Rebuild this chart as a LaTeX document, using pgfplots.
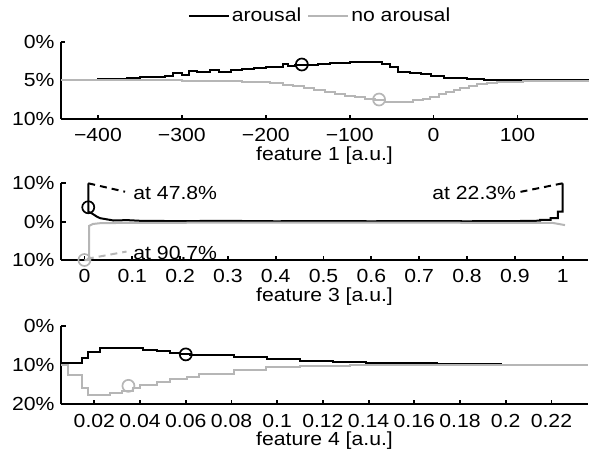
\documentclass[border=0pt]{standalone}
\usepackage{pgfplots}
\pgfplotsset{compat=1.18}
\usepackage{fontspec}
\setmainfont[FakeStretch=1.12]{Liberation Sans}
\definecolor{lg}{RGB}{182,182,182}
\newcommand{\ff}{\fontsize{19}{23}\selectfont}
\pgfplotsset{
  base/.style={
    scale only axis, width=527bp, anchor=south west,
    axis x line*=bottom, axis y line*=left,
    axis line style={line width=1.9bp},
    tick align=inside, major tick length=4.5bp,
    every tick/.style={line width=1.8bp, black},
    tick label style={font=\ff},
    label style={font=\ff},
    xticklabel style={yshift=-3bp},
    clip=false,
    x label style={at={(axis description cs:0.5,0)}, anchor=base, yshift=-41bp},
  },
  bl/.style={black, line width=2bp},
  gr/.style={lg, line width=2bp},
  circ/.style={only marks, mark=o, mark size=6bp, mark options={line width=1.7bp}},
}
\begin{document}
\ff
\begin{tikzpicture}[font=\ff]
\path[use as bounding box] (0,0) rectangle (590bp,-456bp);
% ---------- panel 1
\begin{axis}[base, at={(61bp,-119bp)}, height=77.3bp,
  xmin=-444, xmax=184, ymin=-5, ymax=5,
  xtick={-400,-300,-200,-100,0,100},
  xticklabels={−400,−300,−200,−100,0,100},
  ytick={-5,0,5}, yticklabels={10\%,5\%,0\%},
  xlabel={feature 1 [a.u.]},
  legend style={at={(axis description cs:0.4915,1)}, anchor=center, yshift=25.7bp,
    draw=none, fill=none, legend columns=2, font=\ff,
    /tikz/every even column/.append style={column sep=4bp}},
  legend image code/.code={\draw[#1] (0bp,0bp) -- (40bp,0bp);},
]
\addplot[bl, const plot] coordinates {(-444,0.05) (-420,0.08) (-400,0.12) (-380,0.2) (-365,0.3) (-350,0.38) (-335,0.45) (-320,0.6) (-310,0.95) (-300,0.7) (-292,1.2) (-282,1.05) (-266,1.3) (-256,1.05) (-242,1.35) (-228,1.5) (-214,1.6) (-200,1.7) (-188,1.75) (-180,2.1) (-174,1.85) (-165,1.95) (-150,2.0) (-138,2.15) (-124,2.2) (-112,2.25) (-100,2.35) (-86,2.4) (-72,2.35) (-62,2.15) (-52,1.7) (-42,1.1) (-28,1.0) (-15,0.8) (-3,0.5) (12,0.35) (25,0.25) (40,0.12) (60,0.1) (80,0.05) (100,0.02) (184,0)};
\addlegendentry{arousal}
\addplot[gr, const plot] coordinates {(-444,0) (-350,0) (-300,-0.02) (-250,-0.08) (-228,-0.15) (-210,-0.25) (-195,-0.4) (-180,-0.6) (-168,-0.75) (-155,-0.95) (-142,-1.2) (-130,-1.45) (-118,-1.75) (-106,-2.0) (-94,-2.2) (-82,-2.4) (-70,-2.55) (-58,-2.8) (-40,-2.75) (-25,-2.6) (-13,-2.4) (-4,-2.1) (6,-1.8) (15,-1.5) (24,-1.2) (32,-0.95) (42,-0.75) (52,-0.52) (64,-0.35) (76,-0.22) (90,-0.15) (107,-0.09) (140,-0.02) (184,0)};
\addlegendentry{no arousal}
\addplot[circ, black] coordinates {(-157,2.05)};
\addplot[circ, lg] coordinates {(-65,-2.48)};
\end{axis}
% ---------- panel 2
\begin{axis}[base, at={(61bp,-260bp)}, height=76.7bp,
  xmin=-0.049, xmax=1.053, ymin=-10, ymax=10,
  xtick={0,0.1,0.2,0.3,0.4,0.5,0.6,0.7,0.8,0.9,1},
  xticklabels={0,0.1,0.2,0.3,0.4,0.5,0.6,0.7,0.8,0.9,1},
  ytick={-10,0,10}, yticklabels={10\%,0\%,10\%},
  xlabel={feature 3 [a.u.]},
]
\addplot[bl] coordinates {(0.008,10) (0.008,2.6) (0.015,2.2) (0.026,1.3) (0.033,0.9) (0.047,0.6) (0.061,0.3) (0.089,0.4) (0.12,0.2) (0.2,0.15) (0.3,0.2) (0.4,0.1) (0.5,0.15) (0.6,0.1) (0.7,0.15) (0.8,0.1) (0.9,0.15) (0.953,0.25) (0.953,0.45) (0.975,0.45) (0.975,0.9) (0.99,0.9) (0.99,2.6) (1.0,2.6) (1.0,10)};
\addplot[gr] coordinates {(0.0,-10) (0.010,-10) (0.010,-1.1) (0.018,-0.6) (0.033,-0.4) (0.1,-0.3) (0.5,-0.25) (0.9,-0.3) (0.98,-0.35) (1.005,-0.9)};
\addplot[bl, dash pattern=on 7bp off 5bp] coordinates {(0.008,10) (0.085,7.8)};
\addplot[bl, dash pattern=on 7bp off 5bp] coordinates {(1.0,10) (0.905,7.6)};
\addplot[gr, dash pattern=on 7bp off 5bp] coordinates {(0.005,-9.7) (0.088,-7.8)};
\addplot[circ, black] coordinates {(0.008,3.75)};
\addplot[circ, lg] coordinates {(0.0,-10)};
\node[anchor=west, inner sep=0pt, font=\ff] at (axis cs:0.102,7.4) {at 47.8\%};
\node[anchor=east, inner sep=0pt, font=\ff] at (axis cs:0.903,7.5) {at 22.3\%};
\node[anchor=west, inner sep=0pt, font=\ff] at (axis cs:0.102,-8.2) {at 90.7\%};
\end{axis}
% ---------- panel 3
\begin{axis}[base, at={(61bp,-404.3bp)}, height=78.6bp,
  xmin=0.0054, xmax=0.236, ymin=-10, ymax=10,
  xtick={0.02,0.04,0.06,0.08,0.1,0.12,0.14,0.16,0.18,0.2,0.22},
  xticklabels={0.02,0.04,0.06,0.08,0.1,0.12,0.14,0.16,0.18,0.2,0.22},
  ytick={-10,0,10}, yticklabels={20\%,10\%,0\%},
  xlabel={feature 4 [a.u.]},
]
\addplot[bl, const plot] coordinates {(0.0054,0.4) (0.0145,1.7) (0.0174,3.4) (0.0225,4.2) (0.0269,4.4) (0.0342,4.2) (0.0414,3.9) (0.0473,3.6) (0.0531,3.1) (0.0575,2.8) (0.062,2.6) (0.0662,2.5) (0.0809,2.1) (0.0954,1.5) (0.110,1.1) (0.1245,0.85) (0.139,0.6) (0.154,0.45) (0.17,0.3) (0.185,0.18) (0.198,0.09) (0.21,0.03) (0.222,0) (0.236,0)};
\addplot[gr, const plot] coordinates {(0.0054,0) (0.0085,-2.5) (0.0145,-5.8) (0.0174,-7.6) (0.0269,-7.2) (0.032,-6.6) (0.0371,-5.8) (0.040,-5.2) (0.0473,-4.2) (0.0531,-3.6) (0.0604,-3.0) (0.066,-2.3) (0.081,-1.3) (0.095,-0.6) (0.110,-0.25) (0.132,-0.1) (0.16,0) (0.236,0)};
\addplot[circ, black] coordinates {(0.060,2.7)};
\addplot[circ, lg] coordinates {(0.0349,-5.3)};
\end{axis}
\end{tikzpicture}
\end{document}
